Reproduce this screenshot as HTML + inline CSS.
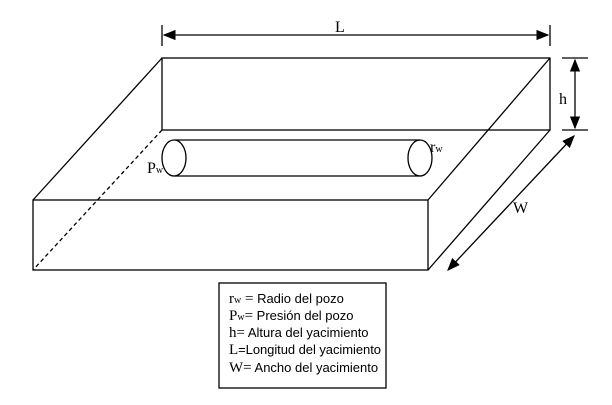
<!DOCTYPE html><html><head><style>body{margin:0;background:#fff}</style></head><body>
<svg width="612" height="400" xmlns="http://www.w3.org/2000/svg" font-family="Liberation Serif, serif">
<defs><marker id="a" markerWidth="10" markerHeight="8" refX="9" refY="4" orient="auto-start-reverse"><path d="M0,0L10,4L0,8z" fill="#000"/></marker></defs>
<g stroke="#000" stroke-width="1.3" fill="none">
<rect x="162" y="58" width="388" height="72"/>
<rect x="33" y="200" width="395" height="70"/>
<line x1="162" y1="58" x2="33" y2="200"/>
<line x1="550" y1="58" x2="428" y2="200"/>
<line x1="550" y1="130" x2="428" y2="270"/>
<line x1="162" y1="130" x2="33" y2="270" stroke-dasharray="4,3"/>
<line x1="174" y1="140" x2="420" y2="140"/>
<line x1="174" y1="176" x2="420" y2="176"/>
<ellipse cx="174" cy="158" rx="12" ry="18" fill="#fff"/>
<ellipse cx="420" cy="158" rx="12" ry="18"/>
<line x1="162" y1="25" x2="162" y2="46"/><line x1="550" y1="25" x2="550" y2="46"/>
<line x1="164" y1="35" x2="548" y2="35" marker-start="url(#a)" marker-end="url(#a)"/>
<line x1="562" y1="58" x2="588" y2="58"/><line x1="562" y1="130" x2="588" y2="130"/>
<line x1="575" y1="60" x2="575" y2="128" marker-start="url(#a)" marker-end="url(#a)"/>
<line x1="574" y1="136" x2="448" y2="270" marker-start="url(#a)" marker-end="url(#a)"/>
<rect x="219" y="283" width="167" height="105"/>
</g>
<g font-size="16"><text x="335" y="32">L</text><text x="559" y="104">h</text><text x="513" y="213">W</text>
<text x="147" y="173">P<tspan font-size="10">w</tspan></text><text x="430" y="152">r<tspan font-size="10">w</tspan></text></g>
<g font-size="13" font-family="Liberation Sans, sans-serif">
<text x="229" y="303"><tspan font-family="Liberation Serif" font-size="15">r<tspan font-size="10">w</tspan> =</tspan>  Radio del pozo</text>
<text x="229" y="320"><tspan font-family="Liberation Serif" font-size="15">P<tspan font-size="10">w</tspan>=</tspan>  Presión del pozo</text>
<text x="229" y="337"><tspan font-family="Liberation Serif" font-size="15">h=</tspan>  Altura del yacimiento</text>
<text x="229" y="354" textLength="152"><tspan font-family="Liberation Serif" font-size="15">L</tspan>=Longitud del yacimiento</text>
<text x="229" y="372"><tspan font-family="Liberation Serif" font-size="15">W=</tspan>  Ancho del yacimiento</text>
</g>
</svg></body></html>
